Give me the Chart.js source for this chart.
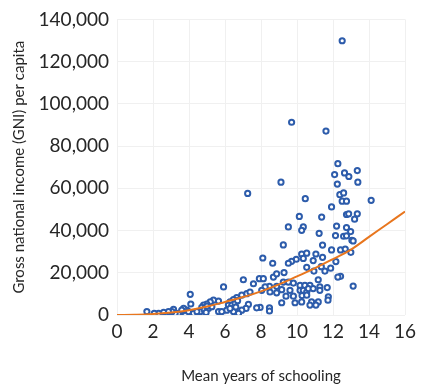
<!DOCTYPE html>
<html>
<head>
<meta charset="utf-8">
<script src="https://cdn.jsdelivr.net/npm/chart.js@4.4.1/dist/chart.umd.min.js"></script>
<style>
  html, body { margin: 0; padding: 0; background: #fff; }
  #wrap { width: 423px; height: 386px; }
</style>
</head>
<body>
<div id="wrap"><canvas id="chartId" width="423" height="386"></canvas></div>
<script>
// mean years of schooling / GNI per capita
var schooling = [
    12.51, 9.70, 11.61, 7.26, 9.11, 10.46, 14.12,
    12.27, 12.09, 12.64, 12.88, 13.35, 13.38, 12.24, 12.38, 12.59, 12.51, 12.75, 11.92,
    11.37, 10.13, 12.75, 12.87, 13.35, 13.20, 12.20, 10.35, 10.26, 9.52, 12.75, 12.98,
    11.23, 12.59, 12.75, 12.14, 13.05, 13.12, 9.24, 11.42, 11.92, 12.42, 12.68, 12.99,
    10.26, 10.54, 11.05, 11.42, 10.35, 10.90, 12.16, 9.96, 9.70, 9.52, 8.10, 8.65,
    10.54, 11.35, 11.87, 11.55, 10.94, 9.28, 12.42, 12.27, 13.12, 8.69, 8.87, 7.91,
    8.13, 7.02, 7.58, 5.92, 11.18, 9.24, 9.52, 9.80, 10.17, 10.44, 10.72, 11.27,
    11.68, 11.27, 10.17, 10.35, 10.54, 10.63, 10.90, 8.87, 8.47, 8.23, 8.04, 8.50,
    8.87, 9.15, 9.61, 9.39, 9.80, 10.28, 10.54, 11.74, 11.72, 11.18, 10.81, 10.26,
    9.89, 9.15, 10.72, 11.05, 8.47, 7.95, 7.76, 8.47, 7.30, 7.17, 6.93, 6.75,
    6.47, 7.21, 7.39, 6.93, 6.65, 6.47, 6.28, 6.19, 6.38, 6.56, 6.10, 6.28,
    5.64, 5.82, 5.64, 5.36, 5.18, 4.99, 4.81, 4.71, 4.90, 5.08, 5.27, 4.81,
    4.62, 4.07, 4.10, 4.25, 3.88, 3.70, 3.60, 3.42, 3.23, 3.14, 3.05, 2.86,
    2.59, 2.31, 1.66, 2.07, 4.44, 3.97, 3.60, 4.85, 4.95, 5.00, 6.70, 6.60
];
var gni = [
    129900, 91300, 87100, 57600, 62900, 55100, 54300,
    71650, 66500, 67300, 65600, 68400, 62900, 62000, 57000, 57800, 53900, 53900, 51200,
    46400, 46700, 47600, 47900, 47900, 45400, 42100, 41700, 40100, 41700, 41400, 39500,
    38700, 37300, 37500, 37600, 35400, 35100, 33200, 33100, 30800, 30800, 31200, 29700,
    28900, 29300, 28900, 27300, 26800, 25800, 25300, 26400, 25400, 24500, 27000, 24500,
    22600, 22900, 22200, 20800, 20800, 20100, 18300, 17950, 13700, 17950, 19500, 17200,
    17200, 16700, 14800, 13300, 16700, 15600, 15600, 15100, 14000, 14000, 14000, 13300,
    13000, 11700, 11700, 11700, 10900, 12500, 12500, 13600, 13600, 13300, 11700, 10900,
    10500, 12000, 11700, 8900, 8900, 9200, 9400, 8600, 7000, 6200, 6200, 6200,
    5800, 5800, 4700, 4700, 3400, 3600, 3400, 1900, 5000, 3100, 2300, 800,
    1600, 10100, 10900, 9400, 8300, 7300, 6200, 4700, 4700, 5500, 2300, 3100,
    1600, 1600, 6600, 7000, 6200, 5200, 4700, 3600, 3100, 3100, 3900, 800,
    1600, 9800, 5200, 800, 2300, 3100, 1600, 800, 800, 2700, 1600, 1600,
    1250, 800, 1600, 800, 1600, 1600, 2300, 2500, 1200, 4200, 6800, 3800
];

// fitted trend curve
var trendX = [0, 1, 2, 3, 4, 5, 6, 7, 8, 9, 10, 11, 12, 13, 14, 15, 16];
var trendY = [0, 150, 500, 1200, 2300, 4000, 6200, 8500, 11200, 14500, 18300, 22200, 26500, 31000, 37000, 43000, 49000];

var points = schooling.map(function(x, i) {
    return { x: x, y: gni[i] };
});
var trend = trendX.map(function(x, i) {
    return { x: x, y: trendY[i] };
});

var tickFont = { family: 'Lato', size: 19 };
var titleFont = { family: 'Lato', size: 15 };

new Chart(document.getElementById("chartId").getContext("2d"), {
    type: 'scatter',
    data: {
        datasets: [{
            type: 'line',
            data: trend,
            borderColor: '#e8761e',
            borderWidth: 2,
            pointRadius: 0,
            tension: 0.4,
            fill: false,
            order: 0
        }, {
            data: points,
            pointRadius: 2.6,
            pointBorderWidth: 2,
            pointBackgroundColor: '#ffffff',
            pointBorderColor: '#2d5cab',
            order: 1
        }]
    },
    options: {
        responsive: false,
        animation: false,
        layout: { padding: { top: 6, right: 18, left: 6, bottom: 0 } },
        plugins: {
            legend: { display: false },
            tooltip: { enabled: false }
        },
        scales: {
            x: {
                min: 0,
                max: 16,
                ticks: { stepSize: 2, color: '#262626', font: tickFont, padding: 5 },
                grid: { color: '#f0f0f0', drawTicks: false },
                border: { display: false },
                title: {
                    display: true,
                    text: 'Mean years of schooling',
                    color: '#262626',
                    font: titleFont,
                    padding: { top: 22, bottom: 1 }
                },
                afterFit: function(scale) { scale.height = 71; }
            },
            y: {
                min: 0,
                max: 140000,
                ticks: {
                    stepSize: 20000,
                    color: '#262626',
                    font: tickFont,
                    padding: 8,
                    callback: function(v) { return v.toLocaleString('en-US'); }
                },
                grid: { color: '#f0f0f0', drawTicks: false },
                border: { display: false },
                title: {
                    display: true,
                    text: 'Gross national income (GNI) per capita',
                    color: '#262626',
                    font: titleFont,
                    padding: { bottom: 12 }
                },
                afterFit: function(scale) { scale.width = 111; }
            }
        }
    }
});
</script>
</body>
</html>
